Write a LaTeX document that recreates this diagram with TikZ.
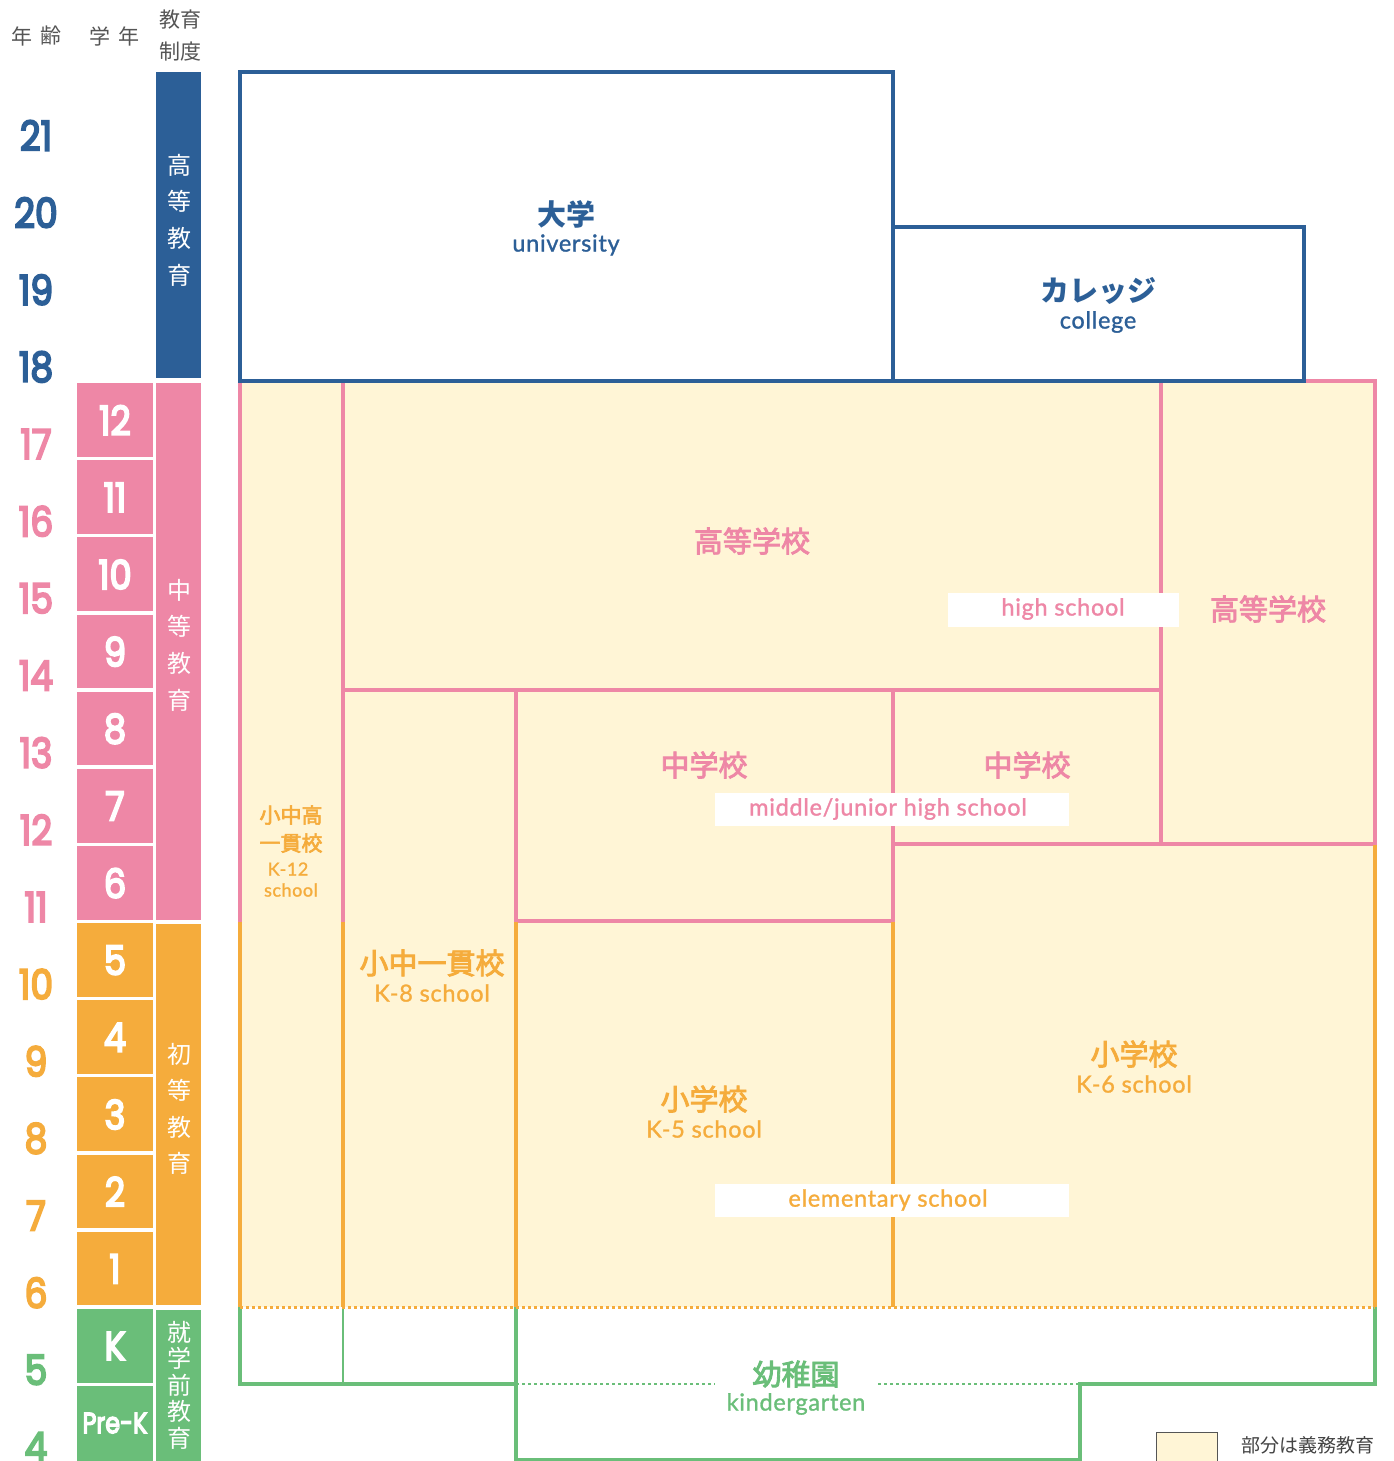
\documentclass[tikz,border=0pt]{standalone}
\usepackage{fontspec}
\setmainfont{Noto Sans CJK JP}
\newfontfamily\jpm{Noto Sans CJK JP}[FakeBold=3]
\newfontfamily\numf{Poppins}[FakeBold=5]
\newfontfamily\latf{Lato}[LetterSpace=3,FakeBold=1.2]
\definecolor{cblue}{HTML}{2C5F97}
\definecolor{cpink}{HTML}{EE87A6}
\definecolor{corange}{HTML}{F5AC3C}
\definecolor{cgreen}{HTML}{6ABE79}
\definecolor{cyellow}{HTML}{FFF5D6}
\definecolor{cgray}{HTML}{555555}
\definecolor{cdgray}{HTML}{444444}
\newcommand{\nmb}[1]{\scalebox{0.88}[1]{#1}}
\tikzset{
  bline/.style={line width=3.5pt, draw=cblue},
  pline/.style={line width=3.5pt, draw=cpink, line cap=rect},
  oline/.style={line width=3.5pt, draw=corange, line cap=rect},
  gline/.style={line width=3.5pt, draw=cgreen, line cap=rect},
  agelabel/.style={inner sep=0, font=\numf\fontsize{41}{41}\selectfont},
  gradelabel/.style={inner sep=0, text=white, font=\numf\fontsize{40}{40}\selectfont},
  sysch/.style={inner sep=0, text=white, font=\fontsize{24}{24}\selectfont},
  header/.style={inner sep=0, text=cgray, font=\fontsize{21}{21}\selectfont},
  jpbig/.style={inner sep=0, font=\jpm\fontsize{29}{29}\selectfont},
  jpbold/.style={inner sep=0, font=\bfseries\fontsize{29}{29}\selectfont},
  jpsmall/.style={inner sep=0, font=\jpm\fontsize{21}{21}\selectfont},
  enlab/.style={inner sep=0, font=\latf\fontsize{23.5}{23.5}\selectfont},
  ensmall/.style={inner sep=0, font=\latf\fontsize{18}{18}\selectfont},
  tagbox/.style={fill=white, draw=none},
  dotl/.style={line width=3pt, dash pattern=on 3pt off 3pt},
}
\begin{document}
\begin{tikzpicture}[x=1pt,y=-1pt]
\useasboundingbox (0,0) rectangle (1393,1461);
\fill[white] (0,0) rectangle (1393,1461);

% headers
\node[header] (h1a) at (22,36) {年};
\node[header] (h1b) at (51,36) {齢};
\node[header] (h2a) at (100,36) {学};
\node[header] (h2b) at (129,36) {年};
\node[header] (h3a) at (180,20) {教育};
\node[header] (h3b) at (180,52) {制度};

% age numbers
\foreach \a in {18,...,21}{\node[agelabel,text=cblue] (age\a) at (36,{1447-(\a-4)*77.15}) {\nmb{\a}};}
\foreach \a in {11,...,17}{\node[agelabel,text=cpink] (age\a) at (36,{1447-(\a-4)*77.15}) {\nmb{\a}};}
\foreach \a in {6,...,10}{\node[agelabel,text=corange] (age\a) at (36,{1447-(\a-4)*77.15}) {\nmb{\a}};}
\foreach \a in {4,5}{\node[agelabel,text=cgreen] (age\a) at (36,{1447-(\a-4)*77.15}) {\nmb{\a}};}

% grade boxes
\foreach \g [count=\i from 4] in {12,11,10,9,8,7,6}{
  \fill[cpink] (77,{72+77.15*\i+2.5}) rectangle (153,{72+77.15*(\i+1)-1});
  \node[gradelabel] (gr\g) at (115,{72+77.15*(\i+0.5)+1}) {\nmb{\g}};}
\foreach \g [count=\i from 11] in {5,4,3,2,1}{
  \fill[corange] (77,{72+77.15*\i+2.5}) rectangle (153,{72+77.15*(\i+1)-1});
  \node[gradelabel] (gr\g) at (115,{72+77.15*(\i+0.5)+1}) {\nmb{\g}};}
\fill[cgreen] (77,{72+77.15*16+2.5}) rectangle (153,{72+77.15*17-1});
\node[gradelabel] (grK) at (115,{72+77.15*16.5+1}) {\nmb{K}};
\fill[cgreen] (77,{72+77.15*17+2.5}) rectangle (153,1461);
\node[gradelabel,font=\numf\fontsize{29}{29}\selectfont] (grPK) at (115,{72+77.15*17.5+1}) {\scalebox{0.82}[1]{Pre-K}};

% system column
\fill[cblue] (156,72) rectangle (201,378);
\fill[cpink] (156,383) rectangle (201,920);
\fill[corange] (156,924) rectangle (201,1305);
\fill[cgreen] (156,1310) rectangle (201,1461);
\foreach \c [count=\i from 0] in {高,等,教,育}{\node[sysch] (sa\i) at (179,{165+36.8*\i}) {\c};}
\foreach \c [count=\i from 0] in {中,等,教,育}{\node[sysch] (sb\i) at (179,{590+36.8*\i}) {\c};}
\foreach \c [count=\i from 0] in {初,等,教,育}{\node[sysch] (sc\i) at (179,{1054+36.5*\i}) {\c};}
\foreach \c [count=\i from 0] in {就,学,前,教,育}{\node[sysch] (sd\i) at (179,{1332+26.5*\i}) {\c};}

% compulsory area
\fill[cyellow] (240,381) rectangle (1375,1307);

% pink lines
\draw[pline] (240,381) -- (240,921);
\draw[pline] (343,381) -- (343,921);
\draw[pline] (343,690) -- (1161,690);
\draw[pline] (1161,381) -- (1161,844);
\draw[pline] (1304,381) -- (1375,381) -- (1375,844);
\draw[pline] (893,844) -- (1375,844);
\draw[pline] (516,690) -- (516,921);
\draw[pline] (893,690) -- (893,921);
\draw[pline] (516,921) -- (893,921);

% orange lines
\draw[oline,line cap=butt] (240,922) -- (240,1307);
\draw[oline,line cap=butt] (343,922) -- (343,1307);
\draw[oline,line cap=butt] (516,922) -- (516,1307);
\draw[oline,line cap=butt] (893,922) -- (893,1307);
\draw[oline,line cap=butt] (1375,845) -- (1375,1307);

% green lines
\draw[gline] (240,1309) -- (240,1384) -- (516,1384);
\draw[gline,line width=2.5pt] (343,1309) -- (343,1384);
\draw[gline] (516,1309) -- (516,1459.5) -- (1080,1459.5) -- (1080,1384) -- (1375,1384) -- (1375,1309);
\draw[dotl,draw=cgreen,line width=2.5pt] (516,1384) -- (715,1384);
\draw[dotl,draw=cgreen,line width=2.5pt] (878,1384) -- (1080,1384);
\draw[dotl,draw=corange] (240,1307) -- (1375,1307);

% higher education
\draw[bline,fill=white] (240,72) rectangle (893,381);
\draw[bline,fill=white] (893,227) rectangle (1304,381);

% white tag boxes
\fill[tagbox] (948,593) rectangle (1179,627);
\fill[tagbox] (715,793) rectangle (1069,826);
\fill[tagbox] (715,1184) rectangle (1069,1217);

% labels
\node[jpbold,text=cblue] (univj) at (566,214) {大学};
\node[enlab,text=cblue] (unive) at (566,245) {university};
\node[jpbold,text=cblue] (collj) at (1098,291) {カレッジ};
\node[enlab,text=cblue] (colle) at (1098,322) {college};

\node[jpbig,text=cpink] (hs1) at (752,541) {高等学校};
\node[jpbig,text=cpink] (hs2) at (1268,609) {高等学校};
\node[enlab,text=cpink] (hse) at (1063,609) {high school};
\node[jpbig,text=cpink] (ms1) at (704,765) {中学校};
\node[jpbig,text=cpink] (ms2) at (1027,765) {中学校};
\node[enlab,text=cpink] (mse) at (888,809) {middle/junior high school};

\node[jpsmall,text=corange] (k12a) at (291,815) {小中高};
\node[jpsmall,text=corange] (k12b) at (291,843) {一貫校};
\node[ensmall,text=corange] (k12c) at (288,869) {K-12};
\node[ensmall,text=corange] (k12d) at (291,890) {school};

\node[jpbig,text=corange] (k8j) at (432,963) {小中一貫校};
\node[enlab,text=corange] (k8e) at (432,993) {K-8 school};
\node[jpbig,text=corange] (k5j) at (704,1099) {小学校};
\node[enlab,text=corange] (k5e) at (704,1129) {K-5 school};
\node[jpbig,text=corange] (k6j) at (1134,1054) {小学校};
\node[enlab,text=corange] (k6e) at (1134,1084) {K-6 school};
\node[enlab,text=corange] (ele) at (888,1200) {elementary school};

\node[jpbig,text=cgreen] (kgj) at (796,1374) {幼稚園};
\node[enlab,text=cgreen] (kge) at (796,1404) {kindergarten};

% legend
\draw[fill=cyellow,draw=cgray,line width=1pt] (1156,1432) rectangle (1217,1465);
\node[inner sep=0,text=cdgray,font=\fontsize{19}{19}\selectfont] (leg) at (1308,1445) {部分は義務教育};
\end{tikzpicture}
\end{document}
